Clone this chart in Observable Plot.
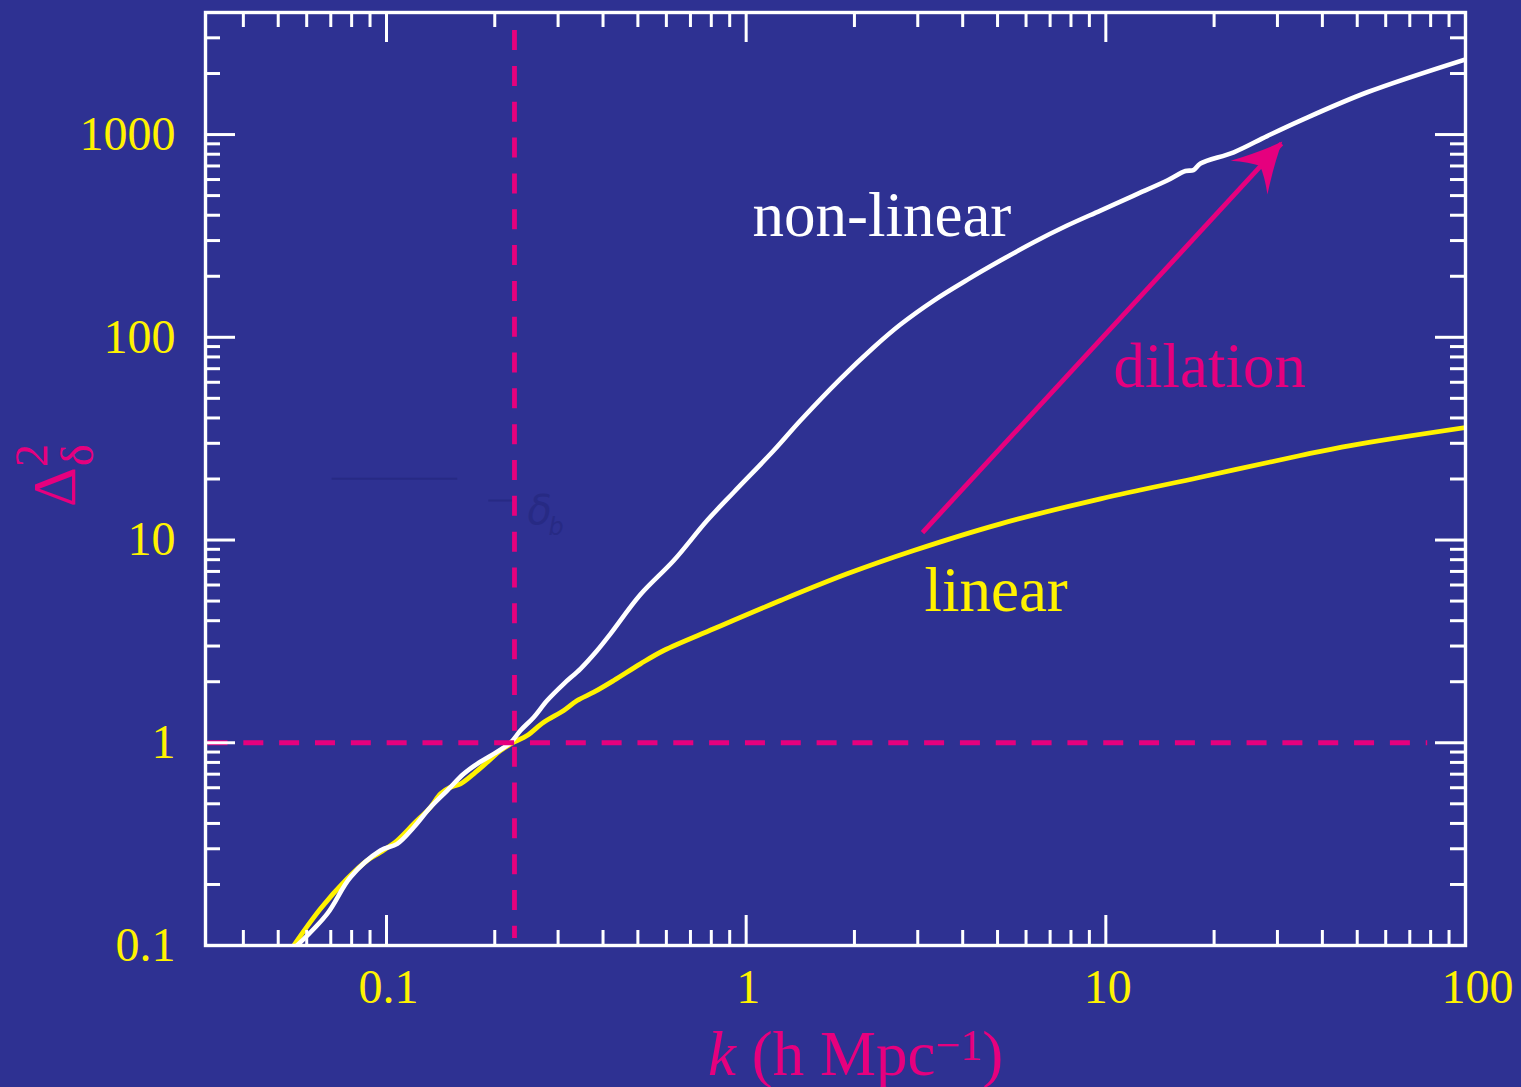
<!DOCTYPE html>
<html><head><meta charset="utf-8">
<script src="https://cdn.jsdelivr.net/npm/d3@7"></script>
<script src="https://cdn.jsdelivr.net/npm/@observablehq/plot@0.6"></script>
<style>html,body{margin:0;padding:0;background:#2e3192;overflow:hidden;}</style>
</head><body><div id="chart"></div>
<script>
// ---- data ----
const kLinear = [0.05523,0.06553,0.07773,0.08837,0.09621,0.1071,0.1191,0.1325,0.1413,0.1506,0.1606,0.1748,0.1905,0.2074,0.2259,0.2461,0.2737,0.3111,0.3390,0.3770,0.4284,0.5083,0.5901,0.8128,1.2454,1.909,2.924,5.093,9.663,18.33,34.76,47.88,100];
const dLinear = [0.1,0.1517,0.2133,0.2626,0.2885,0.3296,0.3983,0.4810,0.5602,0.6035,0.6272,0.7029,0.8016,0.9157,1.006,1.086,1.263,1.442,1.616,1.776,2.028,2.451,2.851,3.648,5.030,6.812,8.878,12.02,15.97,20.40,26.12,29.25,35.88];
const kNonlinear = [0.0564,0.0684,0.0794,0.09621,0.1071,0.1191,0.1325,0.1475,0.1640,0.1787,0.1987,0.2211,0.2358,0.2568,0.2797,0.3111,0.3462,0.3852,0.4195,0.5083,0.6290,0.7788,0.9237,1.193,1.416,1.829,2.264,2.685,3.324,4.117,5.093,6.304,7.806,9.663,11.96,14.81,16.65,17.52,18.33,22.68,28.09,34.76,53.31,100];
const dNonlinear = [0.1,0.1433,0.2172,0.2941,0.3174,0.3833,0.4810,0.5814,0.7029,0.7873,0.8820,1.0,1.149,1.337,1.616,1.953,2.316,2.851,3.446,5.384,7.922,12.48,17.21,27.63,38.86,62.40,89.32,115.6,151.8,192.0,239.0,294.3,355.8,421.9,500.2,593.1,660.7,668.2,719.4,817.6,983.1,1172,1617,2350];

const xTicks = [0.1, 1, 10, 100];
const xTickLabels = ["0.1", "1", "10", "100"];
const xMinorTicks = [0.04,0.05,0.06,0.07,0.08,0.09,0.2,0.3,0.4,0.5,0.6,0.7,0.8,0.9,2,3,4,5,6,7,8,9,20,30,40,50,60,70,80,90];
const yTicks = [0.1, 1, 10, 100, 1000];
const yTickLabels = ["0.1", "1", "10", "100", "1000"];
const yMinorTicks = [0.2,0.3,0.4,0.5,0.6,0.7,0.8,0.9,2,3,4,5,6,7,8,9,20,30,40,50,60,70,80,90,200,300,400,500,600,700,800,900,2000,3000];

const xDomain = [0.03139, 100];
const yDomain = [0.1, 4000];

const kNonlinearScale = 0.2269;           // vertical dashed line
const kDashTop = 3258, kDashBottom = 0.1083;
const unityLevel = 1;                      // horizontal dashed line
const unityFrom = 0.03139, unityTo = 78.5;

const arrowFrom = {k: 3.092, d: 10.89};
const arrowTo = {k: 30.78, d: 902.9};

const labelTexts = ["non-linear", "linear", "dilation"];
const labelK = [1.041, 3.131, 10.50];
const labelD = [317.6, 4.441, 57.17];

// faint residual annotation in the reference
const faintRuleD = [20.04, 15.66];
const faintRuleK1 = [0.07063, 0.1925];
const faintRuleK2 = [0.1578, 0.2236];
const faintTexts = ["δ", "b"];
const faintK = [0.2465, 0.2820];
const faintD = [12.06, 10.64];
const faintSize = [40, 24];

// ---- styling ----
const BG = "#2e3192", WHITE = "#ffffff", YELLOW = "#fff200", MAGENTA = "#e6007e", FAINT = "#272a84";
const W = 1521, H = 1087;
const mL = 205, mR = 56, mT = 12, mB = 142;
const FW = W - mL - mR, FH = H - mT - mB;
const SERIF = "'Liberation Serif', 'Times New Roman', serif";

const linearRows = kLinear.map((k, i) => ({k, d: dLinear[i]}));
const nonlinearRows = kNonlinear.map((k, i) => ({k, d: dNonlinear[i]}));
const labelRows = labelTexts.map((t, i) => ({t, k: labelK[i], d: labelD[i]}));
const faintRuleRows = faintRuleD.map((d, i) => ({d, k1: faintRuleK1[i], k2: faintRuleK2[i]}));
const faintTextRows = faintTexts.map((t, i) => ({t, k: faintK[i], d: faintD[i], s: faintSize[i]}));
const xLab = new Map(xTicks.map((v, i) => [v, xTickLabels[i]]));
const yLab = new Map(yTicks.map((v, i) => [v, yTickLabels[i]]));
const xTicksInner = xTicks.slice(0, -1), xTicksLast = xTicks.slice(-1);

const minor = 15, major = 30, tw = 3;

const plot = Plot.plot({
  width: W, height: H,
  marginLeft: mL, marginRight: mR, marginTop: mT, marginBottom: mB,
  style: {background: BG, fontFamily: SERIF, fontSize: "48px"},
  x: {type: "log", domain: xDomain, label: null},
  y: {type: "log", domain: yDomain, label: null},
  marks: [
    // faint residual annotation
    Plot.ruleY(faintRuleRows, {y: "d", x1: "k1", x2: "k2", stroke: FAINT, strokeWidth: 2}),
    Plot.text(faintTextRows, {x: "k", y: "d", text: "t", fontSize: d => d.s, fill: FAINT, textAnchor: "start", lineAnchor: "bottom", fontStyle: "italic", fontFamily: "'DejaVu Sans', sans-serif"}),
    // curves
    Plot.line(linearRows, {x: "k", y: "d", stroke: YELLOW, strokeWidth: 4.8, curve: "catmull-rom", clip: true}),
    Plot.line(nonlinearRows, {x: "k", y: "d", stroke: WHITE, strokeWidth: 4.6, curve: "catmull-rom", clip: true}),
    // dashed reference lines
    Plot.ruleY([unityLevel], {y: d => d, x1: unityFrom, x2: unityTo, stroke: MAGENTA, strokeWidth: 4.8, strokeDasharray: "20 15.83", strokeDashoffset: -2.5}),
    Plot.ruleX([kNonlinearScale], {x: d => d, y1: kDashTop, y2: kDashBottom, stroke: MAGENTA, strokeWidth: 4.8, strokeDasharray: "20 15.83"}),
    // dilation arrow shaft
    Plot.link([{}], {x1: arrowFrom.k, y1: arrowFrom.d, x2: arrowTo.k, y2: arrowTo.d, stroke: MAGENTA, strokeWidth: 4.8}),
    // in-plot labels
    Plot.text(labelRows, {x: "k", y: "d", text: "t", fontSize: 63, textAnchor: "start", lineAnchor: "bottom",
      fill: d => d.t === "non-linear" ? WHITE : d.t === "linear" ? YELLOW : MAGENTA}),
    // inward ticks: bottom / top
    Plot.tickX(xMinorTicks, {x: d => d, insetTop: FH - minor, stroke: WHITE, strokeWidth: tw}),
    Plot.tickX(xMinorTicks, {x: d => d, insetBottom: FH - minor, stroke: WHITE, strokeWidth: tw}),
    Plot.tickX(xTicks, {x: d => d, insetTop: FH - major, stroke: WHITE, strokeWidth: tw}),
    Plot.tickX(xTicks, {x: d => d, insetBottom: FH - major, stroke: WHITE, strokeWidth: tw}),
    // inward ticks: left / right
    Plot.tickY(yMinorTicks, {y: d => d, insetRight: FW - minor, stroke: WHITE, strokeWidth: tw}),
    Plot.tickY(yMinorTicks, {y: d => d, insetLeft: FW - minor, stroke: WHITE, strokeWidth: tw}),
    Plot.tickY(yTicks, {y: d => d, insetRight: FW - major, stroke: WHITE, strokeWidth: tw}),
    Plot.tickY(yTicks, {y: d => d, insetLeft: FW - major, stroke: WHITE, strokeWidth: tw}),
    Plot.frame({stroke: WHITE, strokeWidth: 3.4}),
    // tick labels
    Plot.axisX({ticks: xTicksInner, tickFormat: d => xLab.get(d), tickSize: 0, tickPadding: 23, color: YELLOW, fontSize: 48, label: null, dx: 2}),
    Plot.axisX({ticks: xTicksLast, tickFormat: d => xLab.get(d), tickSize: 0, tickPadding: 23, color: YELLOW, fontSize: 48, label: null, dx: 12}),
    Plot.axisY({ticks: yTicks, tickFormat: d => yLab.get(d), tickSize: 0, tickPadding: 30, color: YELLOW, fontSize: 48, label: null})
  ]
});
document.getElementById("chart").appendChild(plot);

// ---- post-render: arrowhead and mixed-style axis titles ----
const svg = d3.select(plot);
const sxo = plot.scale("x"), syo = plot.scale("y");
const sx = sxo.apply ? (v => sxo.apply(v)) : d3.scaleLog(sxo.domain, sxo.range);
const sy = syo.apply ? (v => syo.apply(v)) : d3.scaleLog(syo.domain, syo.range);
const bx = sx(arrowFrom.k), by = sy(arrowFrom.d), tx = sx(arrowTo.k), ty = sy(arrowTo.d);
const ang = Math.atan2(ty - by, tx - bx) * 180 / Math.PI;
svg.append("path")
  .attr("d", "M2,0 Q-20,-9 -47,-25 Q-35,-10 -31,0 Q-35,10 -47,25 Q-20,9 2,0Z")
  .attr("fill", MAGENTA)
  .attr("transform", `translate(${tx},${ty}) rotate(${ang})`);

// x-axis title: k (h Mpc^-1)
const xt = svg.append("text")
  .attr("x", 708).attr("y", 1075)
  .attr("fill", MAGENTA).attr("font-size", 63).attr("text-anchor", "start")
  .style("font-family", SERIF);
xt.append("tspan").attr("font-style", "italic").text("k");
xt.append("tspan").text(" (h Mpc");
xt.append("tspan").attr("font-size", 44).attr("dy", -15).text("−1");
xt.append("tspan").attr("dy", 15).text(")");

// y-axis title: Δ²_δ (rotated)
const yg = svg.append("g").attr("transform", "translate(75,507) rotate(-90)")
  .attr("fill", MAGENTA).style("font-family", SERIF).attr("text-anchor", "start");
yg.append("text").attr("x", 0).attr("y", 0).attr("font-size", 62).text("Δ");
yg.append("text").attr("x", 40).attr("y", -28).attr("font-size", 46).text("2");
yg.append("text").attr("x", 41).attr("y", 18).attr("font-size", 46).text("δ");
</script>
</body></html>
